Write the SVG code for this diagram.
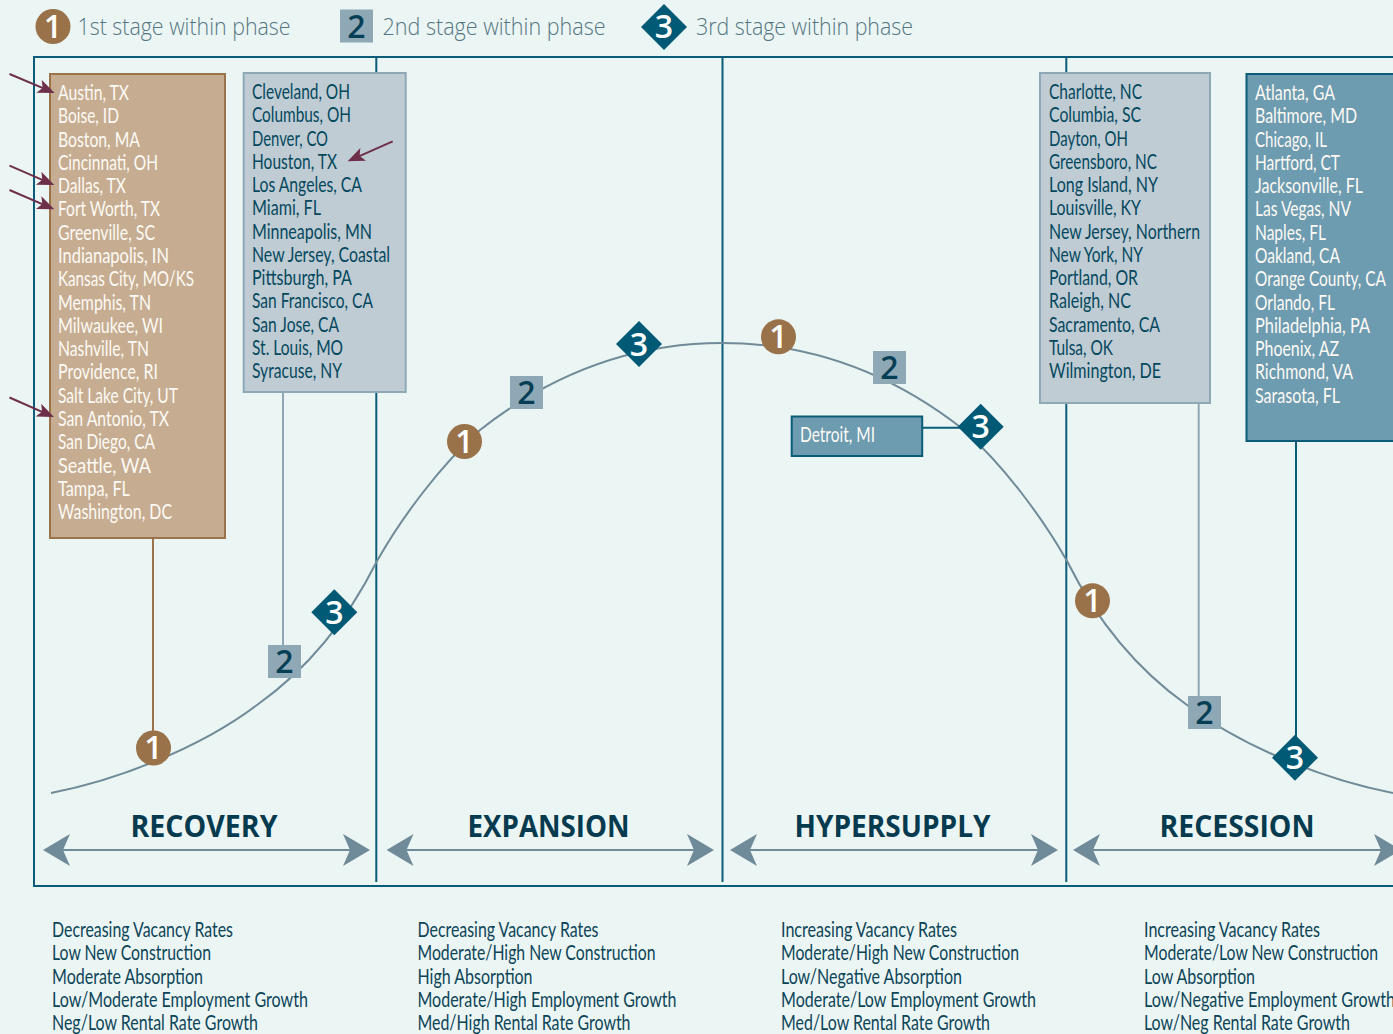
<svg xmlns="http://www.w3.org/2000/svg" width="1393" height="1034" viewBox="0 0 1393 1034">
<style>
text{font-family:"Lato","Noto Sans",sans-serif}
.c{font-size:21px;fill:#04485e}
.w{font-size:21px;fill:#fdfaf5}
.b{font-size:21px;fill:#0c4458}
.leg{font-family:"Open Sans",sans-serif;font-size:24px;font-weight:300;fill:#547682}
.ph{font-family:"Open Sans",sans-serif;font-size:31px;font-weight:700;fill:#063a4f}
.n{font-family:"Open Sans",sans-serif;font-size:32px;font-weight:600;text-anchor:middle}
.fr{fill:none;stroke:#0b5c78;stroke-width:2}
.div{stroke:#0b5c78;stroke-width:2;fill:none}
.curve{fill:none;stroke:#6f8a98;stroke-width:2}
.mar{stroke:#6e2f4a;stroke-width:2;fill:none;marker-end:url(#ma)}
.ph-a{stroke:#6f8a98;stroke-width:2;fill:none;marker-start:url(#ps);marker-end:url(#pe)}
</style>
<defs>
<marker id="ma" markerUnits="userSpaceOnUse" markerWidth="20" markerHeight="16" refX="14" refY="7" orient="auto"><path d="M17 7 L0 0 L4 7 L0 14 Z" fill="#6e2f4a"/></marker>
<marker id="pe" markerUnits="userSpaceOnUse" markerWidth="30" markerHeight="34" refX="20" refY="17" orient="auto"><path d="M27 17 L0 1 L7 17 L0 33 Z" fill="#6f8a98"/></marker>
<marker id="ps" markerUnits="userSpaceOnUse" markerWidth="30" markerHeight="34" refX="7" refY="17" orient="auto"><path d="M0 17 L27 1 L20 17 L27 33 Z" fill="#6f8a98"/></marker>
</defs>
<rect width="1393" height="1034" fill="#ebf5f3"/>
<g id="frame">
<path class="fr" d="M1393 57H34V886H1393"/>
<path class="div" d="M376.300 57V882M722.500 57V882M1066.300 57V882"/>
</g>
<g id="legend">
<circle cx="53" cy="26.500" r="17.500" fill="#9a7249"/><text class="n" x="53" y="38" fill="#fff">1</text>
<text class="leg" x="77.500" y="35" textLength="213" lengthAdjust="spacingAndGlyphs">1st stage within phase</text>
<rect x="340" y="9.500" width="33" height="33" fill="#8fa8b6"/><text class="n" x="356.500" y="38" fill="#063f55">2</text>
<text class="leg" x="382.500" y="35" textLength="223" lengthAdjust="spacingAndGlyphs">2nd stage within phase</text>
<path d="M664 4L687 27L664 50L641 27Z" fill="#005a75"/><text class="n" x="664" y="38" fill="#fff">3</text>
<text class="leg" x="696" y="35" textLength="217" lengthAdjust="spacingAndGlyphs">3rd stage within phase</text>
</g>
<g id="box-first">
<rect x="50" y="74" width="175" height="464" fill="#c6ad91" stroke="#9b7249" stroke-width="2"/>
<text class="w" x="58" y="100" textLength="71" lengthAdjust="spacingAndGlyphs">Austin, TX</text>
<text class="w" x="58" y="123.300" textLength="61" lengthAdjust="spacingAndGlyphs">Boise, ID</text>
<text class="w" x="58" y="146.600" textLength="82" lengthAdjust="spacingAndGlyphs">Boston, MA</text>
<text class="w" x="58" y="169.800" textLength="100" lengthAdjust="spacingAndGlyphs">Cincinnati, OH</text>
<text class="w" x="58" y="193.100" textLength="68" lengthAdjust="spacingAndGlyphs">Dallas, TX</text>
<text class="w" x="58" y="216.400" textLength="102" lengthAdjust="spacingAndGlyphs">Fort Worth, TX</text>
<text class="w" x="58" y="239.700" textLength="97" lengthAdjust="spacingAndGlyphs">Greenville, SC</text>
<text class="w" x="58" y="263" textLength="111" lengthAdjust="spacingAndGlyphs">Indianapolis, IN</text>
<text class="w" x="58" y="286.200" textLength="136" lengthAdjust="spacingAndGlyphs">Kansas City, MO/KS</text>
<text class="w" x="58" y="309.500" textLength="93" lengthAdjust="spacingAndGlyphs">Memphis, TN</text>
<text class="w" x="58" y="332.800" textLength="105" lengthAdjust="spacingAndGlyphs">Milwaukee, WI</text>
<text class="w" x="58" y="356.100" textLength="91" lengthAdjust="spacingAndGlyphs">Nashville, TN</text>
<text class="w" x="58" y="379.400" textLength="100" lengthAdjust="spacingAndGlyphs">Providence, RI</text>
<text class="w" x="58" y="402.600" textLength="120" lengthAdjust="spacingAndGlyphs">Salt Lake City, UT</text>
<text class="w" x="58" y="425.900" textLength="111" lengthAdjust="spacingAndGlyphs">San Antonio, TX</text>
<text class="w" x="58" y="449.200" textLength="97" lengthAdjust="spacingAndGlyphs">San Diego, CA</text>
<text class="w" x="58" y="472.500" textLength="93" lengthAdjust="spacingAndGlyphs">Seattle, WA</text>
<text class="w" x="58" y="495.800" textLength="72" lengthAdjust="spacingAndGlyphs">Tampa, FL</text>
<text class="w" x="58" y="519" textLength="114" lengthAdjust="spacingAndGlyphs">Washington, DC</text>
</g>
<g id="box-second">
<rect x="243.700" y="73" width="162" height="319" fill="#bfccd4" stroke="#8fa8b6" stroke-width="2"/>
<text class="c" x="252" y="99" textLength="98" lengthAdjust="spacingAndGlyphs">Cleveland, OH</text>
<text class="c" x="252" y="122.250" textLength="99" lengthAdjust="spacingAndGlyphs">Columbus, OH</text>
<text class="c" x="252" y="145.500" textLength="76" lengthAdjust="spacingAndGlyphs">Denver, CO</text>
<text class="c" x="252" y="168.750" textLength="85" lengthAdjust="spacingAndGlyphs">Houston, TX</text>
<text class="c" x="252" y="192" textLength="110" lengthAdjust="spacingAndGlyphs">Los Angeles, CA</text>
<text class="c" x="252" y="215.250" textLength="69" lengthAdjust="spacingAndGlyphs">Miami, FL</text>
<text class="c" x="252" y="238.500" textLength="120" lengthAdjust="spacingAndGlyphs">Minneapolis, MN</text>
<text class="c" x="252" y="261.750" textLength="138" lengthAdjust="spacingAndGlyphs">New Jersey, Coastal</text>
<text class="c" x="252" y="285" textLength="100" lengthAdjust="spacingAndGlyphs">Pittsburgh, PA</text>
<text class="c" x="252" y="308.250" textLength="121" lengthAdjust="spacingAndGlyphs">San Francisco, CA</text>
<text class="c" x="252" y="331.500" textLength="87" lengthAdjust="spacingAndGlyphs">San Jose, CA</text>
<text class="c" x="252" y="354.750" textLength="91" lengthAdjust="spacingAndGlyphs">St. Louis, MO</text>
<text class="c" x="252" y="378" textLength="90" lengthAdjust="spacingAndGlyphs">Syracuse, NY</text>
</g>
<g id="box-third">
<rect x="1040" y="73" width="170" height="330" fill="#bfccd4" stroke="#8fa8b6" stroke-width="2"/>
<text class="c" x="1049" y="99" textLength="93" lengthAdjust="spacingAndGlyphs">Charlotte, NC</text>
<text class="c" x="1049" y="122.250" textLength="92" lengthAdjust="spacingAndGlyphs">Columbia, SC</text>
<text class="c" x="1049" y="145.500" textLength="79" lengthAdjust="spacingAndGlyphs">Dayton, OH</text>
<text class="c" x="1049" y="168.750" textLength="108" lengthAdjust="spacingAndGlyphs">Greensboro, NC</text>
<text class="c" x="1049" y="192" textLength="109" lengthAdjust="spacingAndGlyphs">Long Island, NY</text>
<text class="c" x="1049" y="215.250" textLength="92" lengthAdjust="spacingAndGlyphs">Louisville, KY</text>
<text class="c" x="1049" y="238.500" textLength="151" lengthAdjust="spacingAndGlyphs">New Jersey, Northern</text>
<text class="c" x="1049" y="261.750" textLength="94" lengthAdjust="spacingAndGlyphs">New York, NY</text>
<text class="c" x="1049" y="285" textLength="89" lengthAdjust="spacingAndGlyphs">Portland, OR</text>
<text class="c" x="1049" y="308.250" textLength="82" lengthAdjust="spacingAndGlyphs">Raleigh, NC</text>
<text class="c" x="1049" y="331.500" textLength="111" lengthAdjust="spacingAndGlyphs">Sacramento, CA</text>
<text class="c" x="1049" y="354.750" textLength="64" lengthAdjust="spacingAndGlyphs">Tulsa, OK</text>
<text class="c" x="1049" y="378" textLength="112" lengthAdjust="spacingAndGlyphs">Wilmington, DE</text>
</g>
<g id="box-fourth">
<rect x="1246.500" y="74" width="150" height="367" fill="#6d9bb0" stroke="#0b5c78" stroke-width="2"/>
<text class="w" x="1255" y="100" textLength="80" lengthAdjust="spacingAndGlyphs">Atlanta, GA</text>
<text class="w" x="1255" y="123.300" textLength="102" lengthAdjust="spacingAndGlyphs">Baltimore, MD</text>
<text class="w" x="1255" y="146.600" textLength="72" lengthAdjust="spacingAndGlyphs">Chicago, IL</text>
<text class="w" x="1255" y="169.800" textLength="85" lengthAdjust="spacingAndGlyphs">Hartford, CT</text>
<text class="w" x="1255" y="193.100" textLength="108" lengthAdjust="spacingAndGlyphs">Jacksonville, FL</text>
<text class="w" x="1255" y="216.400" textLength="96" lengthAdjust="spacingAndGlyphs">Las Vegas, NV</text>
<text class="w" x="1255" y="239.700" textLength="71" lengthAdjust="spacingAndGlyphs">Naples, FL</text>
<text class="w" x="1255" y="263" textLength="85" lengthAdjust="spacingAndGlyphs">Oakland, CA</text>
<text class="w" x="1255" y="286.200" textLength="131" lengthAdjust="spacingAndGlyphs">Orange County, CA</text>
<text class="w" x="1255" y="309.500" textLength="80" lengthAdjust="spacingAndGlyphs">Orlando, FL</text>
<text class="w" x="1255" y="332.800" textLength="115" lengthAdjust="spacingAndGlyphs">Philadelphia, PA</text>
<text class="w" x="1255" y="356.100" textLength="84" lengthAdjust="spacingAndGlyphs">Phoenix, AZ</text>
<text class="w" x="1255" y="379.400" textLength="98" lengthAdjust="spacingAndGlyphs">Richmond, VA</text>
<text class="w" x="1255" y="402.600" textLength="85" lengthAdjust="spacingAndGlyphs">Sarasota, FL</text>
</g>
<g id="box-detroit">
<rect x="791.700" y="416.500" width="130.500" height="39.500" fill="#6d9bb0" stroke="#0b5c78" stroke-width="2"/>
<text class="w" x="800" y="442" textLength="75" lengthAdjust="spacingAndGlyphs">Detroit, MI</text>
</g>
<g id="connectors">
<path class="curve" d="M51 793C118 780 200 748 257 705C305 671 345 625 377 561C402 517 440 466 480 430C550 375 630 343 722 343C814 343 894 375 964 430C1004 466 1042 517 1067 561C1099 625 1139 671 1187 705C1244 748 1326 780 1393 793"/>
<path fill="none" stroke="#9b7249" stroke-width="2" d="M153 539V748"/>
<path fill="none" stroke="#8fa8b6" stroke-width="2" d="M283 393V660M1198.700 404V712"/>
<path fill="none" stroke="#0b5c78" stroke-width="2" d="M1296 442V757M923 427.700H980"/>
<path class="ph-a" d="M50 850H363"/><path class="ph-a" d="M393.500 850H707"/><path class="ph-a" d="M737 850H1051"/><path class="ph-a" d="M1080 850H1394"/>
<path class="mar" d="M9.500 74L51.900 91.800"/><path class="mar" d="M9.500 165.700L51.500 183.800"/><path class="mar" d="M9.500 190L51.500 208.100"/><path class="mar" d="M9.500 397.500L51.200 415.800"/><path class="mar" d="M392.700 141.300L350.400 160.100"/>
</g>
<g id="m-r1"><circle cx="153.500" cy="748" r="17.500" fill="#9a7249"/><text class="n" x="153.500" y="759" fill="#fff">1</text></g>
<g id="m-r2"><rect x="268" y="645" width="33" height="33" fill="#8fa8b6"/><text class="n" x="284.500" y="672.500" fill="#063f55">2</text></g>
<g id="m-r3"><path d="M334.300 589.200L357.300 612.200L334.300 635.200L311.300 612.200Z" fill="#005a75"/><text class="n" x="334.300" y="623.500" fill="#fff">3</text></g>
<g id="m-e1"><circle cx="464.500" cy="441.500" r="17.500" fill="#9a7249"/><text class="n" x="464.500" y="452.500" fill="#fff">1</text></g>
<g id="m-e2"><rect x="510" y="376" width="33" height="33" fill="#8fa8b6"/><text class="n" x="526.500" y="403.500" fill="#063f55">2</text></g>
<g id="m-e3"><path d="M639 321L662 344L639 367L616 344Z" fill="#005a75"/><text class="n" x="639" y="355.500" fill="#fff">3</text></g>
<g id="m-h1"><circle cx="778.500" cy="336.800" r="17.500" fill="#9a7249"/><text class="n" x="778.500" y="348" fill="#fff">1</text></g>
<g id="m-h2"><rect x="873" y="351" width="33" height="33" fill="#8fa8b6"/><text class="n" x="889.500" y="379" fill="#063f55">2</text></g>
<g id="m-h3"><path d="M980.700 403.800L1003.700 426.800L980.700 449.800L957.700 426.800Z" fill="#005a75"/><text class="n" x="980.700" y="438" fill="#fff">3</text></g>
<g id="m-s1"><circle cx="1092.500" cy="600.800" r="17.500" fill="#9a7249"/><text class="n" x="1092.500" y="612" fill="#fff">1</text></g>
<g id="m-s2"><rect x="1188" y="696" width="33" height="33" fill="#8fa8b6"/><text class="n" x="1204.500" y="724" fill="#063f55">2</text></g>
<g id="m-s3"><path d="M1295 734.700L1318 757.700L1295 780.700L1272 757.700Z" fill="#005a75"/><text class="n" x="1295" y="769" fill="#fff">3</text></g>
<g id="phases">
<text class="ph" x="130.500" y="837" textLength="147" lengthAdjust="spacingAndGlyphs">RECOVERY</text>
<text class="ph" x="467.500" y="837" textLength="162" lengthAdjust="spacingAndGlyphs">EXPANSION</text>
<text class="ph" x="794.500" y="837" textLength="196" lengthAdjust="spacingAndGlyphs">HYPERSUPPLY</text>
<text class="ph" x="1159.500" y="837" textLength="155" lengthAdjust="spacingAndGlyphs">RECESSION</text>
</g>
<g id="notes">
<text class="b" x="52" y="937" textLength="181" lengthAdjust="spacingAndGlyphs">Decreasing Vacancy Rates</text>
<text class="b" x="52" y="960.250" textLength="159" lengthAdjust="spacingAndGlyphs">Low New Construction</text>
<text class="b" x="52" y="983.500" textLength="151" lengthAdjust="spacingAndGlyphs">Moderate Absorption</text>
<text class="b" x="52" y="1006.750" textLength="256" lengthAdjust="spacingAndGlyphs">Low/Moderate Employment Growth</text>
<text class="b" x="52" y="1030" textLength="206" lengthAdjust="spacingAndGlyphs">Neg/Low Rental Rate Growth</text>
<text class="b" x="417.500" y="937" textLength="181" lengthAdjust="spacingAndGlyphs">Decreasing Vacancy Rates</text>
<text class="b" x="417.500" y="960.250" textLength="238" lengthAdjust="spacingAndGlyphs">Moderate/High New Construction</text>
<text class="b" x="417.500" y="983.500" textLength="115" lengthAdjust="spacingAndGlyphs">High Absorption</text>
<text class="b" x="417.500" y="1006.750" textLength="259" lengthAdjust="spacingAndGlyphs">Moderate/High Employment Growth</text>
<text class="b" x="417.500" y="1030" textLength="213" lengthAdjust="spacingAndGlyphs">Med/High Rental Rate Growth</text>
<text class="b" x="781" y="937" textLength="176" lengthAdjust="spacingAndGlyphs">Increasing Vacancy Rates</text>
<text class="b" x="781" y="960.250" textLength="238" lengthAdjust="spacingAndGlyphs">Moderate/High New Construction</text>
<text class="b" x="781" y="983.500" textLength="181" lengthAdjust="spacingAndGlyphs">Low/Negative Absorption</text>
<text class="b" x="781" y="1006.750" textLength="255" lengthAdjust="spacingAndGlyphs">Moderate/Low Employment Growth</text>
<text class="b" x="781" y="1030" textLength="209" lengthAdjust="spacingAndGlyphs">Med/Low Rental Rate Growth</text>
<text class="b" x="1144" y="937" textLength="176" lengthAdjust="spacingAndGlyphs">Increasing Vacancy Rates</text>
<text class="b" x="1144" y="960.250" textLength="234" lengthAdjust="spacingAndGlyphs">Moderate/Low New Construction</text>
<text class="b" x="1144" y="983.500" textLength="111" lengthAdjust="spacingAndGlyphs">Low Absorption</text>
<text class="b" x="1144" y="1006.750" textLength="251" lengthAdjust="spacingAndGlyphs">Low/Negative Employment Growth</text>
<text class="b" x="1144" y="1030" textLength="206" lengthAdjust="spacingAndGlyphs">Low/Neg Rental Rate Growth</text>
</g>
</svg>
